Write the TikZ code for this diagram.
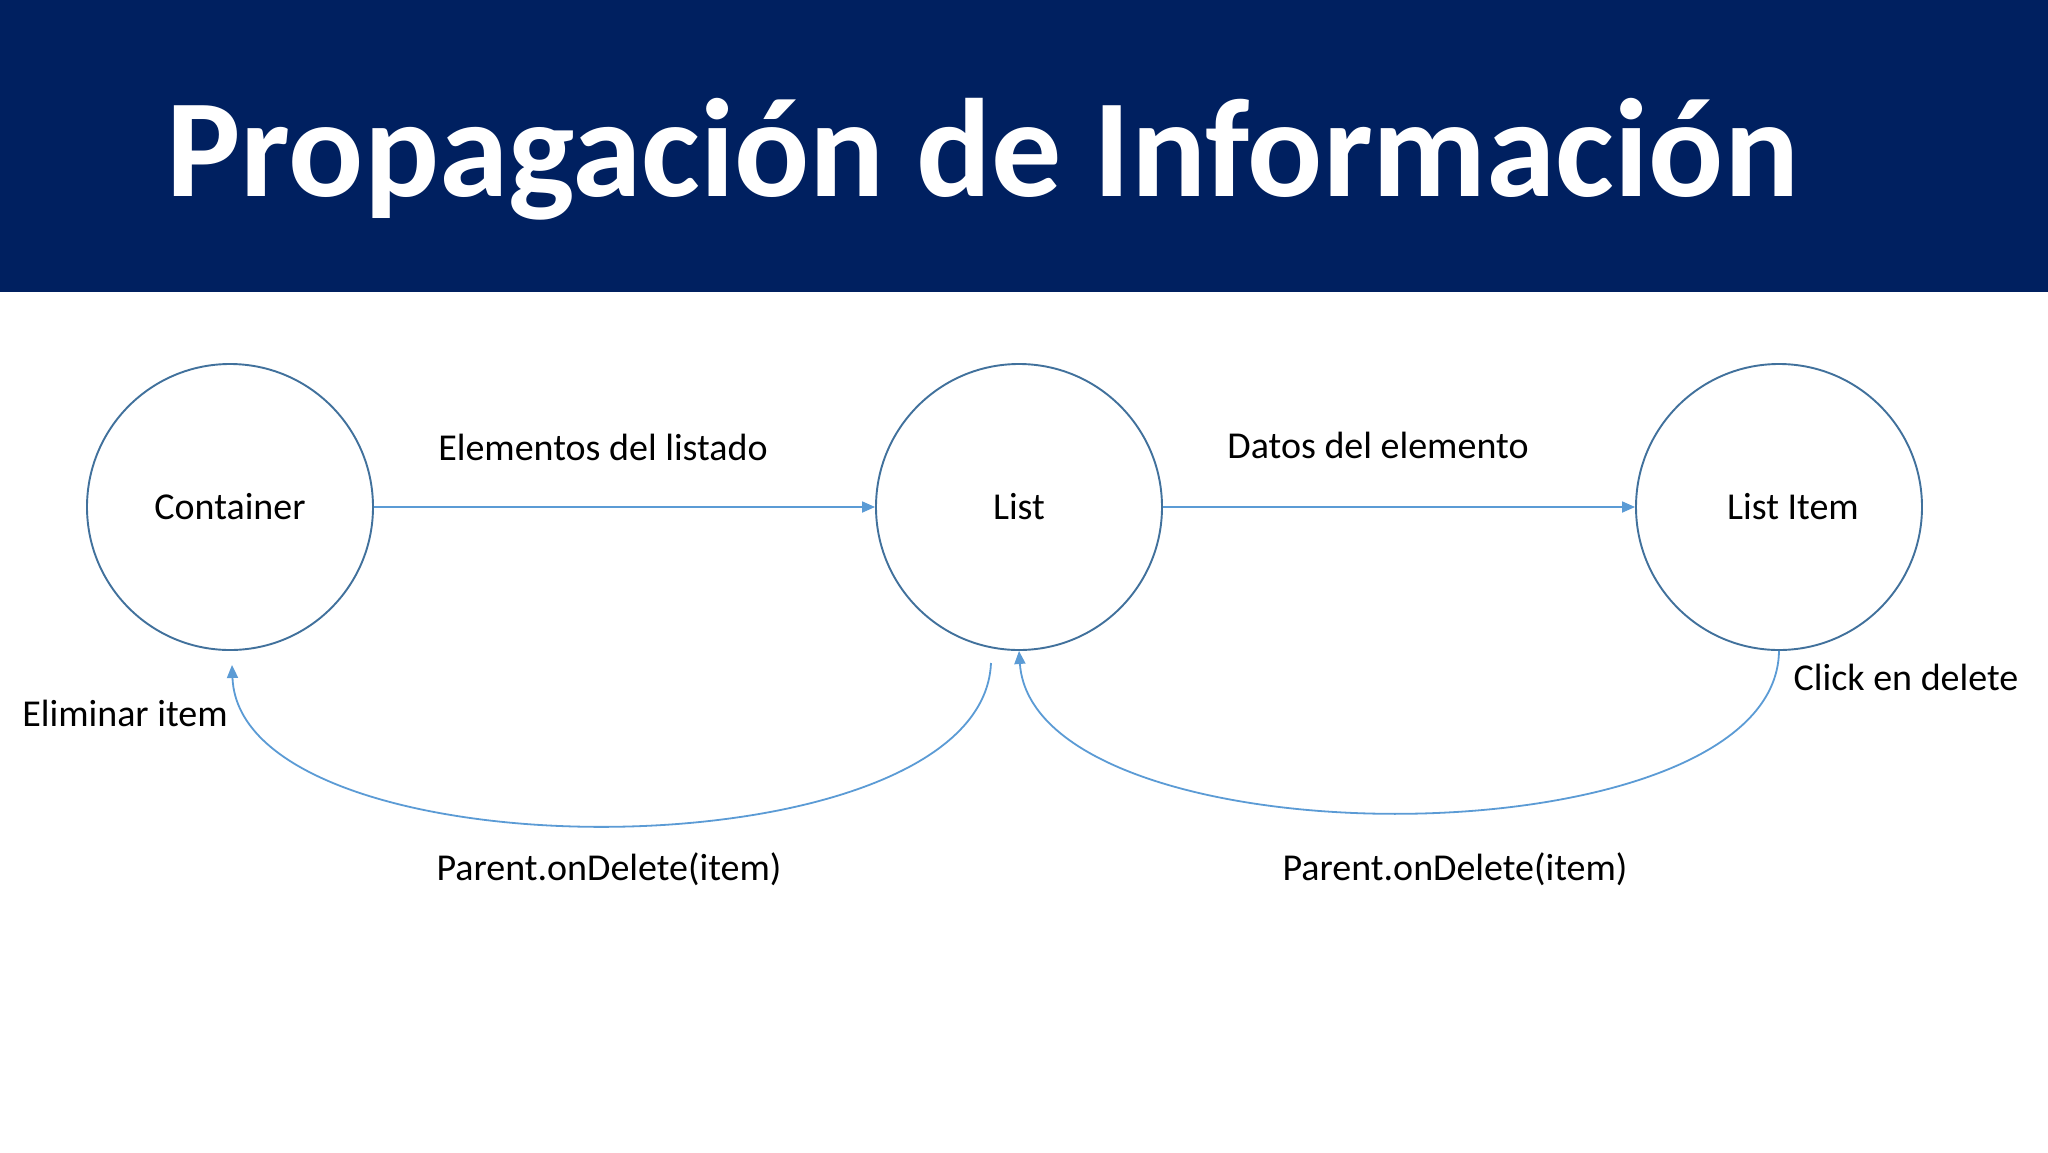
\documentclass[tikz,border=0pt]{standalone}
\usepackage{fontspec}
\setmainfont{Carlito}
\usetikzlibrary{arrows.meta}
\definecolor{navy}{RGB}{0,32,96}
\definecolor{ringc}{RGB}{65,113,156}
\definecolor{arrc}{RGB}{91,155,213}
\begin{document}
\begin{tikzpicture}[x=1pt,y=-1pt,
  ring/.style={circle, draw=ringc, line width=1.9pt, minimum size=286pt, inner sep=0pt, font=\fontsize{38}{45}\selectfont},
  flow/.style={draw=arrc, line width=1.8pt, -{Triangle[length=13pt,width=11pt]}},
  lbl/.style={font=\fontsize{38}{45}\selectfont, inner sep=0pt}]
\useasboundingbox (0,0) rectangle (2048,1152);
\fill[white] (0,0) rectangle (2048,1152);
\fill[navy] (0,0) rectangle (2048,292);
\node[anchor=base west, text=white, font=\fontsize{140}{168}\selectfont\bfseries, inner sep=0pt] (title) at (166,196) {Propagación de Información};

\node[ring] (container) at (230,507) {Container};
\node[ring] (list) at (1019,507) {List};
\node[ring] (item) at (1779,507) {\hspace*{28pt}List Item};

\draw[flow] (container.east) -- (list.west);
\draw[flow] (list.east) -- (item.west);

\coordinate (c1s) at (991,663);
\coordinate (c1e) at (232,665);
\draw[flow] (c1s) .. controls (982,879) and (240,879) .. (c1e);
\draw[flow] (item.south) .. controls (1776,866) and (1034,866) .. (list.south);

\node[lbl] (elem) at (603,447) {Elementos del listado};
\node[lbl] (datos) at (1378,445) {Datos del elemento};
\node[lbl] (elim) at (125,713) {Eliminar item};
\node[lbl] (click) at (1906,677) {Click en delete};
\node[lbl] (pod1) at (609,869) {Parent.onDelete(item)};
\node[lbl] (pod2) at (1455,869) {Parent.onDelete(item)};
\end{tikzpicture}
\end{document}
